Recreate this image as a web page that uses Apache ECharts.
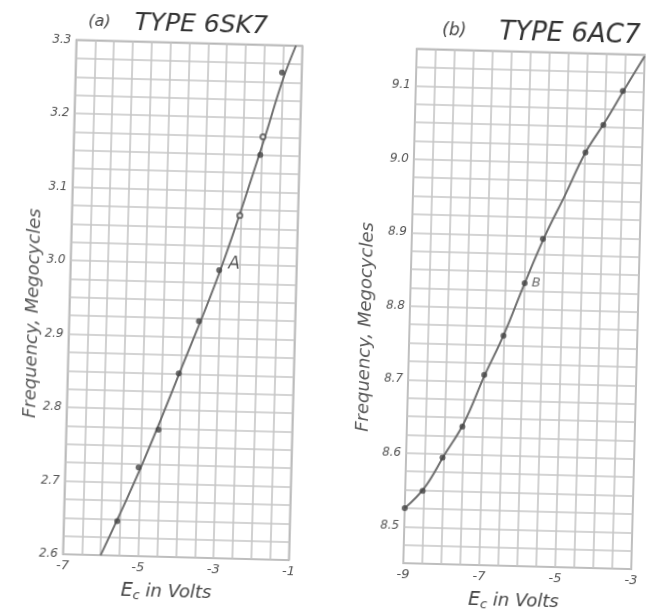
<!DOCTYPE html>
<html><head><meta charset="utf-8">
<script src="https://cdn.jsdelivr.net/npm/echarts@6/dist/echarts.min.js"></script>
<style>
html,body{margin:0;padding:0;background:#fff;overflow:hidden;width:651px;height:612px;}
#wrap{position:relative;width:651px;height:612px;overflow:hidden;}
#chart{position:absolute;left:0;top:0;width:651px;height:612px;transform:rotate(1.5deg);transform-origin:325.5px 306px;}
</style></head>
<body><div id="wrap"><div id="chart"></div></div>
<script>
// ---- Panel (a) TYPE 6SK7 ----
const xTicksA = ['-7', '-5', '-3', '-1'];
const yTicksA = ['2.6', '2.7', '2.8', '2.9', '3.0', '3.1', '3.2', '3.3'];
const dotsA = [[-5.58, 2.647], [-5.05, 2.721], [-4.55, 2.773], [-4.05, 2.85], [-3.55, 2.922], [-3.05, 2.992], [-2.04, 3.15], [-1.52, 3.263]];
const circlesA = [[-2.54, 3.067], [-1.98, 3.175]];
const curveA = [[-6.0, 2.6], [-5.0, 2.72], [-4.0, 2.855], [-3.0, 2.995], [-2.0, 3.162], [-1.5, 3.252], [-1.17, 3.3]];
const noteA = [[-2.66, 3.0]];

// ---- Panel (b) TYPE 6AC7 ----
const xTicksB = ['-9', '-7', '-5', '-3'];
const yTicksB = ['8.5', '8.6', '8.7', '8.8', '8.9', '9.0', '9.1'];
const dotsB = [[-9.0, 8.525], [-8.54, 8.549], [-8.04, 8.595], [-7.54, 8.638], [-7.0, 8.709], [-6.52, 8.763], [-6.0, 8.835], [-5.55, 8.896], [-4.49, 9.015], [-4.04, 9.053], [-3.55, 9.10]];
const curveB = [[-9.0, 8.525], [-8.5, 8.553], [-8.0, 8.598], [-7.5, 8.643], [-7.0, 8.707], [-6.5, 8.766], [-6.0, 8.835], [-5.5, 8.9], [-5.0, 8.956], [-4.5, 9.014], [-4.0, 9.057], [-3.5, 9.103], [-3.0, 9.148]];
const noteB = [[-5.7, 8.835]];

const titleA = ['(a)', 'TYPE 6SK7'];
const titleB = ['(b)', 'TYPE 6AC7'];
const yName = 'Frequency, Megocycles';

const FONT = '"DejaVu Sans", sans-serif';
const W = 200;
const GRID_C = '#c6c6c6';
const INK = '#555';

function pick(labels) {
  return function (v) {
    for (const l of labels) { if (Math.abs(Number(l) - v) < 1e-6) return l; }
    return '';
  };
}

function txt(size, color, extra) {
  return Object.assign({ fontSize: size, fontStyle: 'italic', fontWeight: W, color: color, fontFamily: FONT }, extra || {});
}

const xNameRich = {
  e: txt(19, '#444', { lineHeight: 20, verticalAlign: 'top' }),
  s: txt(13, '#444', { lineHeight: 14, padding: [10, 0, 0, 0], verticalAlign: 'bottom' }),
  n: txt(18, '#444', { lineHeight: 20, verticalAlign: 'top' })
};

function xAxisCfg(idx, lo, hi, ticks, padRight, gap) {
  return {
    gridIndex: idx, type: 'value', min: lo, max: hi, interval: 0.5,
    axisLine: { show: false }, axisTick: { show: false },
    splitLine: { show: true, lineStyle: { color: GRID_C, width: 1.6 } },
    axisLabel: Object.assign({ formatter: pick(ticks), margin: 5 }, txt(13, INK)),
    name: '{e|E}{s|c}{n| in Volts}', nameLocation: 'middle', nameGap: gap,
    nameTextStyle: { rich: xNameRich, padding: [0, padRight, 0, 0] }
  };
}
function yAxisCfg(idx, lo, hi, ticks) {
  return {
    gridIndex: idx, type: 'value', min: lo, max: hi, interval: 0.025,
    axisLine: { show: false }, axisTick: { show: false },
    splitLine: { show: true, lineStyle: { color: GRID_C, width: 1.6 } },
    axisLabel: Object.assign({ formatter: pick(ticks), margin: 5 }, txt(12, INK))
  };
}

const dotStyle = { color: '#454545' };

function yNameText(x, y) {
  return { type: 'text', x: x, y: y, rotation: Math.PI / 2, z: 10,
    style: { text: yName, align: 'center', verticalAlign: 'middle',
      fill: '#5a5a5a', font: 'italic 200 18px "DejaVu Sans", sans-serif' } };
}

const option = {
  backgroundColor: '#fff',
  animation: false,
  title: [
    { text: '{p|' + titleA[0] + '}{t|   ' + titleA[1] + '}', left: 76, top: 9,
      textStyle: { rich: { p: txt(16, '#444', { lineHeight: 28 }), t: txt(25, '#333', { lineHeight: 28 }) } } },
    { text: '{p|' + titleB[0] + '}{t|    ' + titleB[1] + '}', left: 430, top: 9,
      textStyle: { rich: { p: txt(17, '#444', { lineHeight: 28 }), t: txt(26, '#333', { lineHeight: 28 }) } } }
  ],
  graphic: [ yNameText(33, 321), yNameText(366.5, 326) ],
  grid: [
    { left: 69.5, top: 46.5, width: 226, height: 522, show: true, borderColor: '#8a8a8a', borderWidth: 1.5, backgroundColor: 'transparent' },
    { left: 410, top: 46.5, width: 228, height: 524, show: true, borderColor: '#8a8a8a', borderWidth: 1.5, backgroundColor: 'transparent' }
  ],
  xAxis: [ xAxisCfg(0, -7, -1, xTicksA, 18, 15.5), xAxisCfg(1, -9, -3, xTicksB, 6, 18) ],
  yAxis: [ yAxisCfg(0, 2.6, 3.3, yTicksA), yAxisCfg(1, 8.45, 9.15, yTicksB) ],
  series: [
    { type: 'line', xAxisIndex: 0, yAxisIndex: 0, data: curveA, smooth: 0.4, showSymbol: false,
      lineStyle: { color: '#707070', width: 2 }, z: 3 },
    { type: 'scatter', xAxisIndex: 0, yAxisIndex: 0, data: dotsA, symbol: 'circle', symbolSize: 6, itemStyle: dotStyle, z: 4 },
    { type: 'scatter', xAxisIndex: 0, yAxisIndex: 0, data: circlesA, symbol: 'emptyCircle', symbolSize: 5,
      itemStyle: { color: '#505050', borderColor: '#505050', borderWidth: 1.2 }, z: 4 },
    { type: 'scatter', xAxisIndex: 0, yAxisIndex: 0, data: noteA, symbolSize: 0,
      label: Object.assign({ show: true, formatter: 'A', position: 'inside' }, txt(17, '#333')), z: 5 },
    { type: 'line', xAxisIndex: 1, yAxisIndex: 1, data: curveB, smooth: 0.4, showSymbol: false,
      lineStyle: { color: '#707070', width: 2 }, z: 3 },
    { type: 'scatter', xAxisIndex: 1, yAxisIndex: 1, data: dotsB, symbol: 'circle', symbolSize: 6, itemStyle: dotStyle, z: 4 },
    { type: 'scatter', xAxisIndex: 1, yAxisIndex: 1, data: noteB, symbolSize: 0,
      label: Object.assign({ show: true, formatter: 'B', position: 'inside' }, txt(13, '#444')), z: 5 }
  ]
};

const chart = echarts.init(document.getElementById('chart'), null, { renderer: 'canvas' });
chart.setOption(option);
</script>
</body></html>
